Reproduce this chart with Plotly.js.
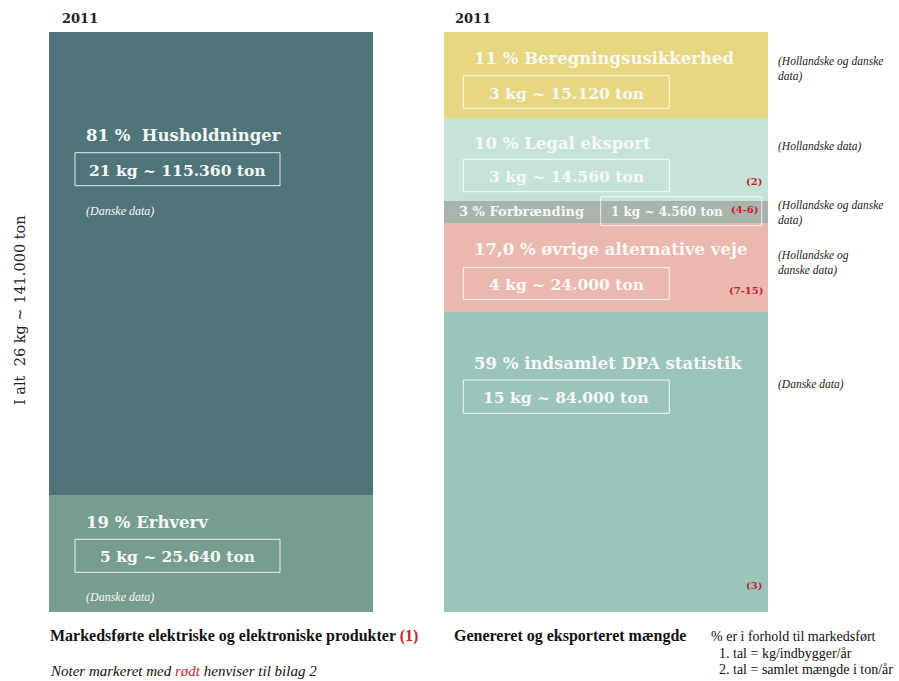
<!DOCTYPE html>
<html>
<head>
<meta charset="utf-8">
<script src="https://cdn.plot.ly/plotly-3.0.1.min.js"></script>
<style>html,body{margin:0;padding:0;background:#fff;}#chart{width:899px;height:681px;}</style>
</head>
<body>
<div id="chart"></div>
<script>
// ---- Data ----
const barYears = ['2011', '2011'];
// Left bar (bottom -> top)
const leftNames = ['Erhverv', 'Husholdninger'];
const leftPct = ['19 %', '81 %'];
const leftKg = ['5 kg', '21 kg'];
const leftTon = ['25.640 ton', '115.360 ton'];
const leftSource = ['(Danske data)', '(Danske data)'];
const leftHeight = [20.2, 79.8];           // visible share of bar height
const leftColors = ['#769D8E', '#4F747A'];
// Right bar (bottom -> top)
const rightNames = ['indsamlet DPA statistik', 'øvrige alternative veje', 'Forbrænding', 'Legal eksport', 'Beregningsusikkerhed'];
const rightPct = ['59 %', '17,0 %', '3 %', '10 %', '11 %'];
const rightKg = ['15 kg', '4 kg', '1 kg', '3 kg', '3 kg'];
const rightTon = ['84.000 ton', '24.000 ton', '4.560 ton', '14.560 ton', '15.120 ton'];
const rightNotes = ['(3)', '(7-15)', '(4-6)', '(2)', ''];
const rightSource = ['(Danske data)', '(Hollandske og<br>danske data)', '(Hollandske og danske<br>data)', '(Hollandske data)', '(Hollandske og danske<br>data)'];
const rightHeight = [51.8, 15.2, 3.85, 14.4, 14.75];  // visible share of bar height
const rightColors = ['#9BC4BB', '#EBB9AF', '#A8B4AC', '#C6E3D9', '#E6D780'];
const totalLabel = 'I alt  26 kg ~ 141.000 ton';

// ---- Layout helpers (pixel -> paper) ----
const W = 899, H = 681, ML = 49, MR = 131, MT = 32, MB = 69;
const PW = W - ML - MR, PH = H - MT - MB;
const px = x => (x - ML) / PW;
const py = y => (H - MB - y) / PH;
const RED = '#C0272D';
const SERIF = 'DejaVu Serif, serif';
const SERIF2 = 'Liberation Serif, Times New Roman, serif';
const WHITE = '#F6F8F6';
const BW = 0.8203;

const traces = [];
leftNames.forEach((n, i) => traces.push({
  type: 'bar', x: [0], y: [leftHeight[i]], width: BW, name: n,
  marker: {color: leftColors[i], line: {width: 0}}, hoverinfo: 'name'
}));
rightNames.forEach((n, i) => traces.push({
  type: 'bar', x: [1], y: [rightHeight[i]], width: BW, name: n,
  marker: {color: rightColors[i], line: {width: 0}}, hoverinfo: 'name'
}));

const ann = [];
const shapes = [];
function txt(text, x, y, size, color, opts) {
  ann.push(Object.assign({
    text: text, xref: 'paper', yref: 'paper', x: px(x), y: py(y),
    xanchor: 'left', yanchor: 'middle', showarrow: false,
    font: {family: SERIF, size: size, color: color}, align: 'left'
  }, opts || {}));
}
function box(x0, y0, x1, y1, text, size) {
  shapes.push({type: 'rect', xref: 'paper', yref: 'paper', x0: px(x0), x1: px(x1), y0: py(y1), y1: py(y0),
    line: {color: 'rgba(255,255,255,0.85)', width: 1}, fillcolor: 'rgba(0,0,0,0)'});
  txt('<b>' + text + '</b>', (x0 + x1) / 2, (y0 + y1) / 2 + 1, size, WHITE, {xanchor: 'center'});
}
const HS = 16.5, BS = 15.5;

// Years
txt('<b>' + barYears[0] + '</b>', 60, 18.5, 13, '#222');
txt('<b>' + barYears[1] + '</b>', 453, 18.5, 13, '#222');

// Left bar labels
txt('<b>' + leftPct[1] + '  ' + leftNames[1] + '</b>', 84, 135, HS, WHITE);
box(75, 152.7, 280, 185.7, leftKg[1] + ' ~ ' + leftTon[1], BS);
txt('<i>' + leftSource[1] + '</i>', 84, 211, 12, WHITE, {font: {family: SERIF2, size: 12, color: WHITE}});
txt('<b>' + leftPct[0] + ' ' + leftNames[0] + '</b>', 84, 522.7, HS, WHITE);
box(75, 539.3, 280, 572.3, leftKg[0] + ' ~ ' + leftTon[0], BS);
txt('<i>' + leftSource[0] + '</i>', 84, 596.7, 12, WHITE, {font: {family: SERIF2, size: 12, color: WHITE}});

// Right bar labels
// Beregningsusikkerhed (index 4)
txt('<b>' + rightPct[4] + ' ' + rightNames[4] + '</b>', 472, 58.3, HS, WHITE);
box(463.3, 75.7, 669.3, 108.3, rightKg[4] + ' ~ ' + rightTon[4], BS);
// Legal eksport (3)
txt('<b>' + rightPct[3] + ' ' + rightNames[3] + '</b>', 472, 143.3, HS, WHITE);
box(463.3, 159.3, 669.3, 191.7, rightKg[3] + ' ~ ' + rightTon[3], BS);
txt('<b>' + rightNotes[3] + '</b>', 764, 181.7, 10, RED, {xanchor: 'right'});
// Forbrænding (2)
txt('<b>' + rightPct[2] + ' ' + rightNames[2] + '</b>', 457, 211.7, 13, WHITE);
shapes.push({type: 'rect', xref: 'paper', yref: 'paper', x0: px(600.7), x1: px(761.7), y0: py(225.7), y1: py(196.7),
  line: {color: 'rgba(255,255,255,0.8)', width: 1}, fillcolor: 'rgba(0,0,0,0)'});
txt('<b>' + rightKg[2] + ' ~ ' + rightTon[2] + '</b>', 609, 212, 12, WHITE);
txt('<b>' + rightNotes[2] + '</b>', 761, 210, 10, RED, {xanchor: 'right'});
// øvrige (1)
txt('<b>' + rightPct[1] + ' ' + rightNames[1] + '</b>', 472, 250, HS, WHITE);
box(463.3, 267.7, 669.3, 299.3, rightKg[1] + ' ~ ' + rightTon[1], BS);
txt('<b>' + rightNotes[1] + '</b>', 766, 290, 10, RED, {xanchor: 'right'});
// DPA (0)
txt('<b>' + rightPct[0] + ' ' + rightNames[0] + '</b>', 472, 363.3, HS, WHITE);
box(463.3, 380, 669.3, 413.3, rightKg[0] + ' ~ ' + rightTon[0], BS);
txt('<b>' + rightNotes[0] + '</b>', 764, 585, 10, RED, {xanchor: 'right'});

// Source notes to the right
const srcY = [384.3, 262.5, 213.3, 146.7, 69.2];
rightSource.forEach((s, i) => txt('<i>' + s + '</i>', 776, srcY[i], 11.5, '#222',
  {font: {family: SERIF2, size: 11.5, color: '#222'}}));

// Y label
txt(totalLabel, 20, 310, 14.5, '#222', {textangle: -90, xanchor: 'center'});

// Footer
const F = {family: SERIF2, size: 16, color: '#111'};
txt('<b>Markedsførte elektriske og elektroniske produkter <span style="color:' + RED + '">(1)</span></b>', 48, 636, 16, '#111', {font: F});
txt('<i>Noter markeret med <span style="color:' + RED + '">rødt</span> henviser til bilag 2</i>', 48, 671, 15, '#111', {font: {family: SERIF2, size: 15, color: '#111'}});
txt('<b>Genereret og eksporteret mængde</b>', 452, 636, 16, '#111', {font: F});
const F2 = {family: SERIF2, size: 14, color: '#111'};
txt('% er i forhold til markedsført', 709, 636, 14, '#111', {font: F2});
txt('1. tal = kg/indbygger/år', 717, 653, 14, '#111', {font: F2});
txt('2. tal = samlet mængde i ton/år', 717, 669, 14, '#111', {font: F2});

const layout = {
  width: W, height: H,
  margin: {l: ML, r: MR, t: MT, b: MB, pad: 0},
  barmode: 'stack', bargap: 0,
  showlegend: false,
  paper_bgcolor: '#fff', plot_bgcolor: '#fff',
  xaxis: {range: [-BW / 2, 1 + BW / 2], visible: false, fixedrange: true},
  yaxis: {range: [0, 100], visible: false, fixedrange: true},
  annotations: ann, shapes: shapes
};
Plotly.newPlot('chart', traces, layout, {displayModeBar: false, staticPlot: true});
</script>
</body>
</html>
